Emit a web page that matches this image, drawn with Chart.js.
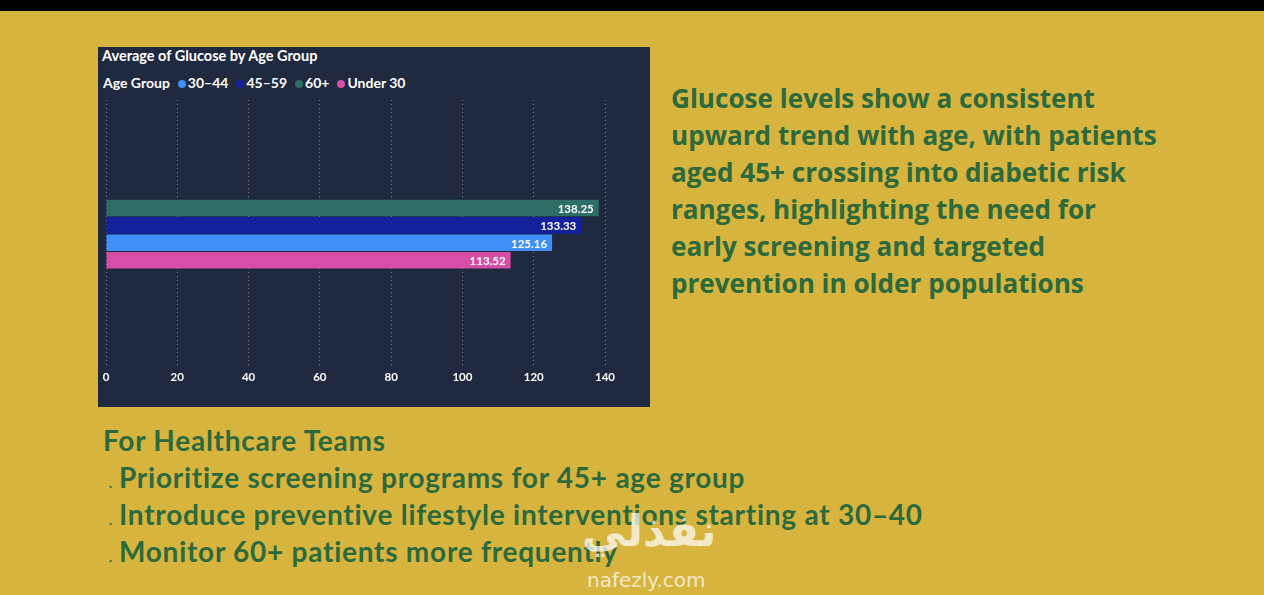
<!DOCTYPE html>
<html>
<head>
<meta charset="utf-8">
<script src="https://cdn.jsdelivr.net/npm/chart.js@4.4.1/dist/chart.umd.min.js"></script>
<style>
  html, body { margin: 0; padding: 0; }
  body { width: 1264px; height: 595px; background: #d6b43d; position: relative; overflow: hidden; font-family: Lato, "Open Sans", sans-serif; }
  #topbar { position: absolute; left: 0; top: 0; width: 1264px; height: 11px; background: #000; }
  #panel { position: absolute; left: 98px; top: 47px; width: 552px; height: 360px; background: #1f2940; }
  #title { position: absolute; left: 4px; top: 0px; color: #fff; font: 700 14.5px Lato, sans-serif; }
  #legend { position: absolute; left: 5px; top: 27px; color: #fff; font: 700 14px Lato, sans-serif; white-space: nowrap; }
  #legend .lab { margin-right: 8px; }
  #legend .item { margin-right: 8px; }
  #legend .dot { display: inline-block; width: 8px; height: 8px; border-radius: 50%; margin-right: 2px; vertical-align: 0px; }
  #chartBox { position: absolute; left: 0; top: 43px; width: 552px; height: 310px; }
  #insight { position: absolute; left: 671px; top: 80px; width: 580px; color: #2c6a3d; font: 700 26.1px "Open Sans", sans-serif; line-height: 37px; white-space: nowrap; }
  #teams { position: absolute; left: 103px; top: 422px; color: #2c6a3d; font: 700 28px Lato, sans-serif; letter-spacing: 0.75px; white-space: nowrap; }
  #teams div { height: 37px; line-height: 37px; }
  #teams .b { font-size: 13px; display: inline-block; width: 16px; padding-left: 6px; box-sizing: border-box; }
  #wm1 { position: absolute; left: 582px; top: 505px; color: rgba(255,255,255,0.72); font: 700 44px "DejaVu Sans", sans-serif; }
  #wm2 { position: absolute; left: 587px; top: 568px; color: rgba(255,255,255,0.72); font: 400 20px "DejaVu Sans", sans-serif; }
</style>
</head>
<body>
<div id="topbar"></div>
<div id="panel">
  <div id="title">Average of Glucose by Age Group</div>
  <div id="legend"></div>
  <div id="chartBox"><canvas id="myChart"></canvas></div>
</div>
<div id="insight">Glucose levels show a consistent<br>upward trend with age, with patients<br>aged 45+ crossing into diabetic risk<br>ranges, highlighting the need for<br>early screening and targeted<br>prevention in older populations</div>
<div id="teams">
  <div>For Healthcare Teams</div>
  <div><span class="b">.</span>Prioritize screening programs for 45+ age group</div>
  <div><span class="b">.</span>Introduce preventive lifestyle interventions starting at 30–40</div>
  <div><span class="b">.</span>Monitor 60+ patients more frequently</div>
</div>
<div id="wm1">نفذلي</div>
<div id="wm2">nafezly.com</div>

<script>
// bars top to bottom, as they sit in the picture
const ageGroups = ['60+', '45–59', '30–44', 'Under 30'];
const avgGlucose = [138.25, 133.33, 125.16, 113.52];
// legend is listed in a different order
const legendOrder = ['30–44', '45–59', '60+', 'Under 30'];
const xMax = 140;
const xStep = 20;

const groupColors = {
  '30–44': '#4090f7',
  '45–59': '#13229c',
  '60+': '#2f6e66',
  'Under 30': '#d64ea6'
};

// legend (html, so the "Age Group" label can sit inline)
function buildLegend() {
  let el = document.getElementById('legend');
  let html = '<span class="lab">Age Group</span>';
  legendOrder.forEach((g) => {
    html += '<span class="item"><span class="dot" style="background:' + groupColors[g] + '"></span>' + g + '</span>';
  });
  el.innerHTML = html;
}

// value labels at the inner end of each bar
const barLabels = {
  id: 'barLabels',
  afterDatasetsDraw(chart) {
    const ctx = chart.ctx;
    ctx.save();
    ctx.font = '700 11.5px Lato, sans-serif';
    ctx.fillStyle = '#ffffff';
    ctx.textAlign = 'right';
    ctx.textBaseline = 'middle';
    chart.data.datasets.forEach((ds, i) => {
      const meta = chart.getDatasetMeta(i);
      meta.data.forEach((bar, j) => {
        ctx.fillText(ds.data[j].toFixed(2), bar.x - 5, bar.y + 1);
      });
    });
    ctx.restore();
  }
};

function addGlucoseChart() {
  const datasets = ageGroups.map((g, i) => {
    return {
      label: g,
      data: [avgGlucose[i]],
      backgroundColor: groupColors[g],
      borderWidth: 0,
      categoryPercentage: 0.26,
      barPercentage: 0.95
    };
  });
  const config = {
    type: 'bar',
    data: { labels: ['Average of Glucose'], datasets: datasets },
    options: {
      indexAxis: 'y',
      responsive: true,
      maintainAspectRatio: false,
      animation: false,
      layout: { padding: { left: 8, right: 45, top: 10, bottom: 14 } },
      plugins: { legend: { display: false }, tooltip: { enabled: false } },
      scales: {
        x: {
          min: 0,
          max: xMax,
          ticks: { stepSize: xStep, color: '#ffffff', padding: 2, font: { family: 'Lato', weight: '700', size: 11.5 } },
          grid: { color: 'rgba(190,195,205,0.55)', drawTicks: false },
          border: { display: false, dash: [1, 3] }
        },
        y: { display: false }
      }
    },
    plugins: [barLabels]
  };
  new Chart(document.getElementById('myChart'), config);
}

buildLegend();
addGlucoseChart();
</script>
</body>
</html>
